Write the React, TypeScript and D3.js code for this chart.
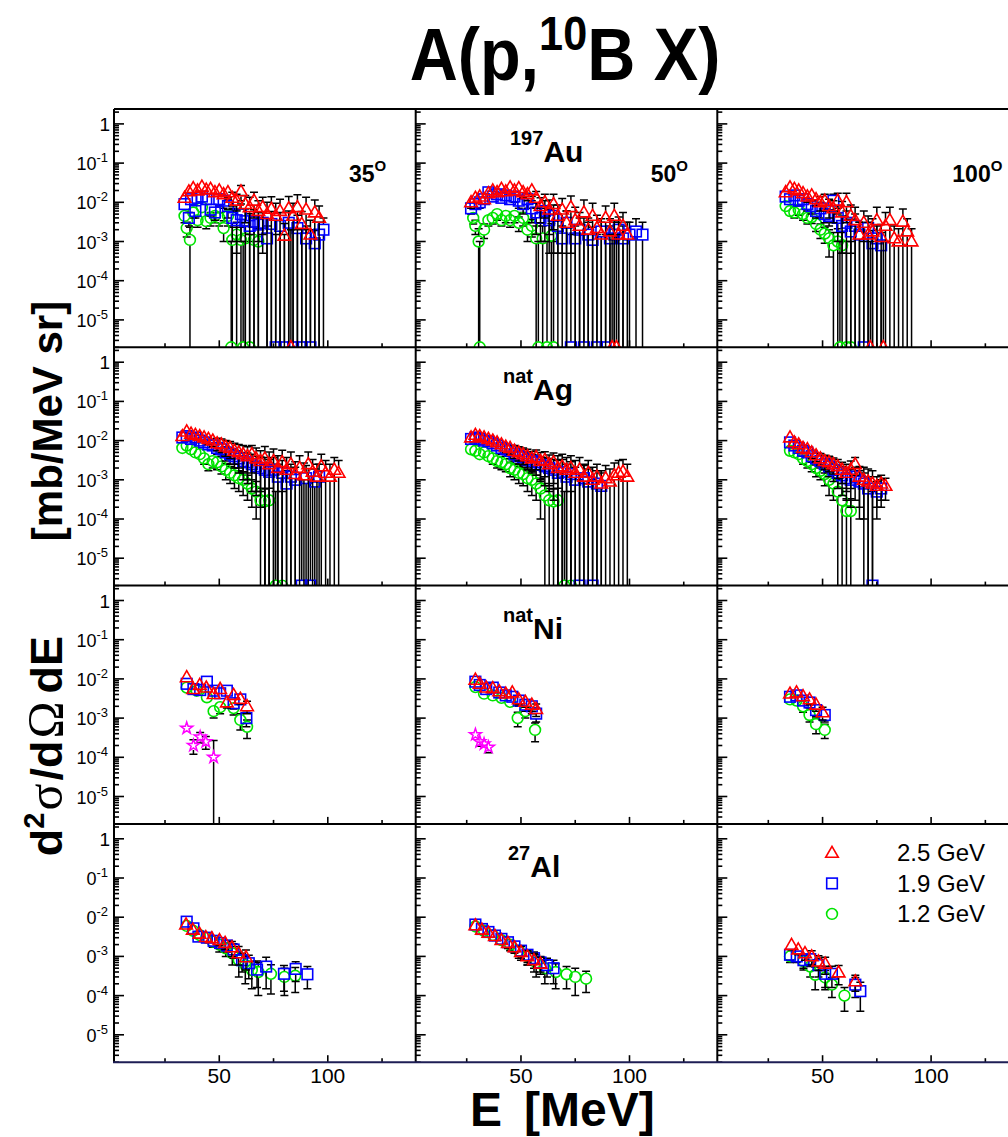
import React from 'react';
import * as d3 from 'd3';

type Pt = [number, number, number]; // [E (MeV), value (mb/MeV sr), error]

// ---------- 197Au ----------
const au35Red: Pt[] = [[34,0.013,0.003],[36,0.019,0.004],[38,0.023,0.005],[40,0.02,0.004],[42,0.025,0.005],[44,0.021,0.005],[46,0.022,0.005],[48,0.018,0.004],[50,0.02,0.005],[52,0.016,0.004],[54,0.018,0.005],[56,0.013,0.005],[58,0.011,0.005],[60,0.019,0.008],[62,0.009,0.006],[64,0.0075,0.006],[66,0.011,0.007],[68,0.006,0.005],[70,0.0075,0.006],[72,0.005,0.005],[74,0.0068,0.007],[76,0.0045,0.005],[78,0.006,0.006],[80,0.0014,0.0015],[82,0.007,0.007],[83,0,0.002],[84,0.0045,0.005],[86,0.0075,0.008],[88,0.0028,0.003],[90,0.0065,0.007],[92,0.0015,0.002],[94,0.0055,0.006],[96,0.004,0.004]];
const au35Blue: Pt[] = [[34,0.009,0.002],[36,0.004,0.0015],[37,0.012,0.003],[39,0.006,0.002],[40,0.013,0.003],[42,0.014,0.003],[44,0.012,0.003],[46,0.0065,0.002],[48,0.0055,0.002],[50,0.012,0.004],[52,0.011,0.004],[54,0.008,0.004],[56,0.004,0.003],[58,0.0035,0.003],[60,0.005,0.004],[62,0.0033,0.0034],[64,0.0025,0.0026],[66,0.0032,0.0033],[68,0.0027,0.0028],[70,0.003,0.0025],[72,0.0012,0.0013],[74,0.0028,0.003],[76,0,0.0015],[78,0.0025,0.003],[80,0,0.0015],[82,0.003,0.003],[84,0,0.002],[86,0.0022,0.0025],[88,0,0.002],[90,0.0012,0.0013],[92,0,0.002],[94,0.0009,0.001],[96,0.0015,0.0016],[98,0.002,0.002]];
const au35Green: Pt[] = [[34,0.0045,0.0015],[35,0.0022,0.0009],[36.5,0.0011,0.0012],[38,0.0055,0.0015],[40,0.0035,0.0012],[42,0.0075,0.002],[44,0.0033,0.0012],[46,0.004,0.0015],[48,0.0045,0.0015],[50,0.004,0.0015],[52,0.0022,0.0012],[54,0.0045,0.002],[55.5,0,0.001],[56,0.0011,0.0012],[58,0.0015,0.0016],[60,0.0011,0.0012],[61,0,0.001],[62,0.0012,0.0013],[64,0,0.001],[66,0.0011,0.0012],[68,0.001,0.0011]];

const au50Red: Pt[] = [[27,0.01,0.003],[29,0.013,0.003],[31,0.014,0.003],[33,0.012,0.003],[35,0.017,0.004],[37,0.02,0.004],[39,0.018,0.004],[41,0.022,0.005],[43,0.019,0.004],[45,0.024,0.005],[47,0.02,0.005],[49,0.023,0.005],[51,0.018,0.005],[53,0.016,0.005],[55,0.02,0.006],[57,0.013,0.006],[59,0.008,0.005],[61,0.01,0.006],[63,0.0065,0.005],[65,0.009,0.007],[67,0.0045,0.004],[69,0.0065,0.006],[71,0.003,0.003],[73,0.0075,0.007],[75,0.0035,0.004],[77,0.0025,0.003],[79,0.0055,0.006],[81,0.002,0.002],[83,0.0045,0.005],[85,0.0022,0.0025],[87,0.0015,0.0016],[89,0.004,0.004],[91,0.0018,0.002],[92,0,0.0015],[93,0.0045,0.005],[94,0,0.0015],[95,0.0015,0.0016],[97,0.0025,0.003],[99,0.0015,0.0016]];
const au50Blue: Pt[] = [[27,0.007,0.002],[29,0.009,0.002],[31,0.01,0.003],[33,0.012,0.003],[35,0.018,0.004],[37,0.014,0.003],[39,0.016,0.004],[41,0.013,0.003],[43,0.015,0.004],[45,0.012,0.003],[47,0.014,0.004],[49,0.011,0.004],[51,0.009,0.004],[53,0.012,0.005],[55,0.007,0.004],[57,0.0055,0.004],[59,0.004,0.003],[61,0.006,0.005],[63,0.0035,0.003],[65,0.0045,0.004],[67,0.0025,0.0025],[69,0.0012,0.0013],[71,0.003,0.003],[73,0,0.0015],[75,0.0012,0.0013],[77,0.002,0.002],[79,0,0.0015],[81,0.0015,0.0016],[83,0.0011,0.0012],[85,0,0.0015],[87,0.0018,0.002],[89,0,0.0015],[91,0.0012,0.0013],[93,0.0015,0.0016],[95,0.002,0.0022],[97,0.0012,0.0013],[100,0.0015,0.0016],[103,0.0018,0.002],[106,0.0015,0.0016]];
const au50Green: Pt[] = [[28,0.004,0.0012],[29,0.0025,0.001],[30.5,0.001,0.0011],[31,0,0.001],[33,0.002,0.0008],[35,0.0035,0.001],[37,0.004,0.0012],[39,0.005,0.0015],[41,0.0035,0.001],[43,0.0045,0.0015],[45,0.0035,0.0012],[47,0.0045,0.0015],[49,0.003,0.0012],[51,0.004,0.0015],[53,0.002,0.001],[55,0.0025,0.0012],[57,0.0012,0.0013],[58,0,0.001],[60,0.0012,0.0013],[62,0,0.001],[64,0.0014,0.0015],[65,0,0.001]];

const au100Red: Pt[] = [[33,0.018,0.004],[35,0.024,0.005],[37,0.022,0.005],[39,0.02,0.004],[41,0.017,0.004],[43,0.014,0.004],[45,0.015,0.004],[47,0.012,0.004],[49,0.01,0.004],[51,0.011,0.005],[53,0.008,0.004],[55,0.007,0.004],[57,0.011,0.006],[59,0.0055,0.005],[61,0.01,0.007],[63,0.0045,0.004],[65,0.0035,0.004],[67,0.0015,0.0016],[69,0.003,0.003],[71,0.0015,0.0016],[72,0,0.001],[73,0.0018,0.002],[75,0.0035,0.004],[77,0.0013,0.0014],[78,0,0.001],[79,0.0025,0.003],[81,0.0035,0.004],[83,0.0012,0.0013],[85,0.001,0.0011],[87,0.0032,0.0035],[89,0.0018,0.002],[91,0.001,0.0011]];
const au100Blue: Pt[] = [[33,0.014,0.003],[35,0.012,0.003],[37,0.015,0.003],[39,0.011,0.003],[41,0.012,0.003],[43,0.009,0.003],[45,0.008,0.003],[47,0.006,0.002],[49,0.007,0.003],[51,0.005,0.002],[53,0.0045,0.002],[55,0.011,0.005],[57,0.004,0.003],[59,0.0025,0.002],[61,0.003,0.003],[63,0.0018,0.0019],[65,0.0025,0.0025],[67,0.0015,0.0016],[69,0,0.001],[71,0.0022,0.0023],[73,0.0009,0.001],[75,0.0012,0.0013],[77,0.0008,0.0009]];
const au100Green: Pt[] = [[33,0.008,0.002],[35,0.006,0.0015],[37,0.0055,0.0015],[39,0.0065,0.0018],[41,0.005,0.0015],[43,0.004,0.0012],[45,0.0042,0.0013],[47,0.0028,0.001],[49,0.002,0.0008],[51,0.0016,0.0007],[53,0.0012,0.0008],[55,0.0008,0.0009],[57,0.001,0.0011],[58,0,0.001],[59,0.0008,0.0009],[61,0,0.001],[63,0,0.001]];

// ---------- natAg ----------
const ag35Red: Pt[] = [[33,0.013,0.002],[35,0.017,0.003],[37,0.015,0.003],[39,0.014,0.003],[41,0.013,0.003],[43,0.012,0.003],[45,0.011,0.003],[47,0.01,0.003],[49,0.0085,0.003],[51,0.008,0.003],[53,0.007,0.003],[55,0.0065,0.003],[57,0.0055,0.003],[59,0.005,0.003],[61,0.0045,0.003],[63,0.004,0.003],[65,0.0045,0.003],[67,0.0035,0.003],[69,0.003,0.0025],[71,0.0035,0.0036],[73,0.0025,0.0026],[75,0.003,0.0031],[77,0.002,0.0021],[79,0.0028,0.0029],[81,0.0018,0.0019],[83,0.0025,0.0026],[85,0.0014,0.0015],[87,0.002,0.0021],[89,0.0013,0.0014],[91,0.0025,0.0026],[93,0.0016,0.0017],[95,0.0012,0.0013],[97,0.0022,0.0023],[99,0.0015,0.0016],[101,0.0012,0.0013],[103,0.0018,0.0019],[105,0.0015,0.0016]];
const ag35Blue: Pt[] = [[33,0.012,0.002],[35,0.013,0.002],[37,0.011,0.002],[39,0.012,0.003],[41,0.01,0.002],[43,0.009,0.002],[45,0.008,0.002],[47,0.0075,0.002],[49,0.0065,0.002],[51,0.006,0.002],[53,0.005,0.002],[55,0.0045,0.002],[57,0.004,0.002],[59,0.0035,0.002],[61,0.003,0.002],[63,0.0028,0.002],[65,0.0025,0.002],[67,0.0022,0.0018],[69,0.002,0.0018],[71,0.0018,0.0019],[73,0.0016,0.0017],[75,0.0018,0.0019],[77,0.0012,0.0013],[79,0.0015,0.0016],[81,0.0008,0.0009],[83,0.0012,0.0013],[85,0.001,0.0011],[88,0,0.001],[90,0.0011,0.0012],[92,0,0.001],[94,0.0009,0.001],[96,0.0012,0.0013]];
const ag35Green: Pt[] = [[33,0.0065,0.0015],[35,0.0075,0.0015],[37,0.006,0.0015],[39,0.005,0.0012],[41,0.0045,0.0012],[43,0.0035,0.001],[45,0.0025,0.0008],[47,0.003,0.001],[49,0.0028,0.001],[51,0.0022,0.0008],[53,0.0018,0.0008],[55,0.0015,0.0007],[57,0.0013,0.0007],[59,0.0011,0.0006],[61,0.001,0.0006],[63,0.0008,0.0005],[65,0.0006,0.0004],[67,0.0005,0.0004],[69,0.0003,0.00031],[71,0.00028,0.0003],[73,0.0003,0.00031],[76,0,0.0005],[79,0,0.0005]];

const ag50Red: Pt[] = [[27,0.012,0.002],[29,0.014,0.002],[31,0.013,0.002],[33,0.012,0.002],[35,0.011,0.002],[37,0.01,0.002],[39,0.009,0.002],[41,0.008,0.002],[43,0.007,0.002],[45,0.0065,0.002],[47,0.0055,0.002],[49,0.005,0.002],[51,0.0045,0.002],[53,0.004,0.002],[55,0.0035,0.0018],[57,0.0038,0.002],[59,0.003,0.002],[61,0.0032,0.002],[63,0.0025,0.0018],[65,0.0028,0.002],[67,0.002,0.0021],[69,0.0022,0.0023],[71,0.0018,0.0019],[73,0.002,0.0021],[75,0.0015,0.0016],[77,0.0018,0.0019],[79,0.0012,0.0013],[81,0.0015,0.0016],[83,0.001,0.0011],[85,0.0012,0.0013],[87,0.0008,0.0009],[89,0.0011,0.0012],[91,0.0009,0.001],[93,0.0013,0.0014],[95,0.0015,0.0016],[97,0.0016,0.0017],[99,0.0012,0.0013]];
const ag50Blue: Pt[] = [[27,0.011,0.002],[29,0.012,0.002],[31,0.011,0.002],[33,0.01,0.002],[35,0.0095,0.002],[37,0.0085,0.002],[39,0.0075,0.002],[41,0.0065,0.002],[43,0.006,0.002],[45,0.0055,0.002],[47,0.0045,0.0015],[49,0.004,0.0015],[51,0.0038,0.0015],[53,0.0033,0.0015],[55,0.003,0.0015],[57,0.0028,0.0015],[59,0.0024,0.0015],[61,0.0022,0.0015],[63,0.002,0.0015],[65,0.0018,0.0015],[67,0.0015,0.0016],[69,0.0016,0.0017],[71,0.0012,0.0013],[73,0.0014,0.0015],[75,0.001,0.0011],[77,0,0.001],[79,0.0011,0.0012],[81,0.0009,0.001],[83,0,0.001],[85,0.0008,0.0009],[87,0.0007,0.0008]];
const ag50Green: Pt[] = [[27,0.006,0.0012],[29,0.0055,0.0012],[31,0.0045,0.001],[33,0.005,0.0012],[35,0.004,0.001],[37,0.0035,0.001],[39,0.003,0.001],[41,0.0028,0.001],[43,0.0025,0.0009],[45,0.002,0.0008],[47,0.0018,0.0008],[49,0.0015,0.0007],[51,0.0014,0.0007],[53,0.0011,0.0006],[55,0.001,0.0006],[57,0.0008,0.0005],[59,0.0006,0.0005],[61,0.0004,0.0004],[63,0.0003,0.0003],[65,0.00028,0.0003],[67,0.0003,0.00031],[70,0,0.0005],[73,0,0.0005]];

const ag100Red: Pt[] = [[35,0.012,0.002],[37,0.009,0.002],[39,0.008,0.002],[41,0.0065,0.0015],[43,0.006,0.0015],[45,0.005,0.0015],[47,0.0042,0.0013],[49,0.0035,0.0012],[51,0.003,0.0012],[53,0.0028,0.0012],[55,0.0025,0.0011],[57,0.0022,0.0011],[59,0.0018,0.001],[61,0.0015,0.001],[63,0.0018,0.0012],[65,0.0025,0.0012],[67,0.0012,0.001],[69,0.001,0.0011],[71,0.0009,0.001],[73,0.0008,0.0009],[75,0.0007,0.0005],[77,0.0008,0.0005],[79,0.0007,0.0004]];
const ag100Blue: Pt[] = [[35,0.009,0.002],[37,0.0075,0.0015],[39,0.0065,0.0015],[41,0.0055,0.0015],[43,0.005,0.0013],[45,0.004,0.0012],[47,0.0035,0.0011],[49,0.003,0.001],[51,0.0025,0.001],[53,0.0022,0.001],[55,0.0018,0.0009],[57,0.0015,0.0009],[59,0.0013,0.0009],[61,0.0011,0.0008],[63,0.001,0.0008],[65,0.0012,0.0009],[67,0.0009,0.0008],[69,0.0008,0.0007],[71,0.0006,0.0006],[73,0,0.0005],[75,0.0005,0.0004],[77,0.0006,0.0004]];
const ag100Green: Pt[] = [[35,0.0055,0.0012],[37,0.005,0.0012],[39,0.0045,0.0011],[41,0.0035,0.001],[43,0.003,0.001],[45,0.0025,0.0009],[47,0.002,0.0008],[49,0.0017,0.0007],[51,0.0014,0.0007],[53,0.001,0.0006],[55,0.0008,0.0005],[57,0.0005,0.0005],[59,0.0003,0.00031],[61,0.00016,0.00017],[63,0.00016,0.00017]];

// ---------- natNi ----------
const ni35Red: Pt[] = [[35,0.011,0.002],[38,0.0055,0.001],[41,0.007,0.0012],[44,0.006,0.0011],[47.4,0.0041,0.0009],[50.4,0.0055,0.001],[53.5,0.0025,0.0007],[56.6,0.0039,0.0009],[59.7,0.0031,0.0008],[62.8,0.002,0.0007]];
const ni35Blue: Pt[] = [[35,0.0075,0.0013],[38.1,0.0055,0.001],[41.2,0.0052,0.001],[44.3,0.0085,0.0014],[47.4,0.005,0.001],[50.4,0.0043,0.0009],[53.5,0.005,0.001],[56.6,0.0024,0.0007],[59.7,0.003,0.0008],[62.5,0.001,0.0004]];
const ni35Green: Pt[] = [[35,0.006,0.001],[39.6,0.005,0.001],[44.3,0.0034,0.0008],[47.4,0.0015,0.0005],[50.4,0.0019,0.0006],[56.6,0.0018,0.0006],[59.7,0.0009,0.0004],[62.8,0.0006,0.0003]];
const ni35Star: Pt[] = [[35,0.00055,0.00012],[38.1,0.0002,0.00008],[41.2,0.00033,0.0001],[43.8,0.00025,0.00009],[47.4,0.0001,0.00017]];

const ni50Red: Pt[] = [[29,0.0095,0.0015],[31,0.0075,0.0013],[34,0.006,0.0012],[37,0.0058,0.0011],[40,0.0048,0.001],[43,0.0042,0.0009],[46,0.0045,0.001],[49,0.003,0.0008],[52,0.0026,0.0007],[55,0.0022,0.0007],[57,0.0017,0.0006]];
const ni50Blue: Pt[] = [[29,0.0085,0.0014],[31,0.007,0.0012],[34,0.0055,0.0011],[37,0.006,0.0011],[40,0.0045,0.001],[43,0.0038,0.0009],[46,0.0035,0.0009],[49,0.0028,0.0008],[52,0.0022,0.0007],[55,0.002,0.0007],[57,0.0013,0.0005]];
const ni50Green: Pt[] = [[29,0.0062,0.0012],[33,0.0042,0.0009],[37,0.0038,0.0009],[41,0.0033,0.0008],[45,0.0026,0.0007],[48.5,0.001,0.0004],[52,0.0015,0.0005],[56.5,0.0005,0.00025]];
const ni50Star: Pt[] = [[29,0.00038,0.00008],[31,0.00025,0.00006],[33,0.00022,0.00005],[35,0.00018,0.00005]];

const ni100Red: Pt[] = [[35,0.0042,0.0009],[38,0.0045,0.0009],[41,0.0036,0.0008],[44,0.003,0.0008],[47,0.0022,0.0007],[50,0.0014,0.0005]];
const ni100Blue: Pt[] = [[35,0.0035,0.0008],[38,0.0038,0.0008],[41,0.0028,0.0007],[44,0.0025,0.0007],[47,0.0016,0.0005],[51,0.0012,0.0004]];
const ni100Green: Pt[] = [[35,0.003,0.0007],[38,0.0028,0.0007],[41,0.002,0.0006],[44,0.0012,0.0004],[47,0.0007,0.0003],[51,0.0005,0.0002]];

// ---------- 27Al ----------
const al35Red: Pt[] = [[34.7,0.0065,0.001],[37.8,0.0048,0.0008],[40.9,0.0038,0.0007],[43.8,0.0031,0.0007],[46.6,0.0029,0.0007],[50.1,0.0026,0.0007],[52.7,0.0022,0.0007],[55.8,0.0017,0.0007],[58.9,0.0012,0.0006],[62.3,0.00095,0.0005]];
const al35Blue: Pt[] = [[35,0.0077,0.0012],[38.1,0.0052,0.0009],[40.4,0.0032,0.0007],[44.3,0.003,0.0007],[47.4,0.0025,0.0006],[50.4,0.0022,0.0006],[53.5,0.0019,0.0006],[56.6,0.0015,0.0006],[60.5,0.0008,0.0004],[63.6,0.00067,0.0004],[67.4,0.00046,0.0003],[71.6,0.00055,0.0004],[79.8,0.00036,0.00023],[85.2,0.00048,0.00025],[90.6,0.00035,0.0002]];
const al35Green: Pt[] = [[35,0.006,0.001],[38,0.0045,0.0008],[41,0.0035,0.0007],[44,0.003,0.0007],[47,0.0024,0.0007],[50,0.002,0.0007],[53,0.0016,0.0006],[56,0.0012,0.0006],[59,0.0008,0.0005],[62,0.0006,0.0004],[65,0.00045,0.0003],[68,0.0004,0.0003],[73.8,0.00036,0.00025],[80,0.0003,0.0002],[85,0.00032,0.0002]];

const al50Red: Pt[] = [[29,0.0062,0.001],[32,0.0048,0.0008],[35,0.004,0.0007],[38,0.0033,0.0006],[41,0.0026,0.0006],[44,0.0022,0.0006],[47,0.0017,0.0005],[50,0.0013,0.0005],[53,0.001,0.0004],[56,0.0008,0.0004],[59,0.00065,0.0003]];
const al50Blue: Pt[] = [[29,0.0065,0.001],[32,0.005,0.0008],[35,0.0042,0.0007],[38,0.0034,0.0006],[41,0.0028,0.0006],[44,0.0023,0.0006],[47,0.0018,0.0005],[50,0.0014,0.0005],[53,0.0011,0.0004],[56,0.0009,0.0004],[59,0.0007,0.0003],[62,0.0006,0.0003],[65,0.0005,0.0003]];
const al50Green: Pt[] = [[29,0.0058,0.001],[33,0.0045,0.0008],[37,0.0035,0.0007],[41,0.0026,0.0006],[45,0.002,0.0006],[49,0.0014,0.0005],[53,0.001,0.0004],[57,0.0007,0.0004],[61,0.0005,0.0003],[66,0.0004,0.00025],[71,0.00035,0.0002],[75,0.0003,0.0002],[80,0.00027,0.00015]];

const al100Red: Pt[] = [[35.7,0.00196,0.0005],[38.8,0.0015,0.0004],[41.9,0.0012,0.0004],[45,0.001,0.0004],[48.1,0.00074,0.0003],[51.2,0.00065,0.0003],[57.4,0.00039,0.0002],[65.1,0.00023,0.0001]];
const al100Blue: Pt[] = [[35,0.0011,0.0003],[38.1,0.001,0.0003],[41.2,0.0008,0.0003],[44.3,0.00085,0.0003],[48.1,0.0006,0.0003],[51.2,0.00036,0.0002],[54.3,0.00036,0.0002],[65.1,0.00019,0.0001],[67.4,0.00013,0.00009]];
const al100Green: Pt[] = [[35,0.001,0.0003],[41.2,0.00075,0.0003],[44.3,0.00055,0.00025],[46.6,0.00034,0.0002],[51.2,0.00029,0.00015],[54.3,0.00019,0.0001],[60.1,0.0001,0.00006]];

// ---------- labels ----------
const angleLabels = ['35', '50', '100'];
const targetMass = ['197', 'nat', 'nat', '27'];
const targetName = ['Au', 'Ag', 'Ni', 'Al'];
const legendLabels = ['2.5 GeV', '1.9 GeV', '1.2 GeV'];
const yTickExps = [0, -1, -2, -3, -4, -5];
const xTickMajor = [50, 100];
const xTickMinor = [25, 75, 125];

// ---------- layout ----------
const W = 1008, H = 1137;
const PW = 301.7, PH = 238.3;
const COL_X = [114, 415.7, 717.3];
const ROW_Y = [109, 347.3, 585.6, 823.9];
const YMIN = 2e-6, YMAX = 2.4;
const FONT = "'Liberation Sans', Arial, Helvetica, sans-serif";
const SERIF = "'Liberation Serif', 'DejaVu Serif', serif";

const xScale = d3.scaleLinear().domain([1.5, 140.5]).range([0, PW]);
const yScale = d3.scaleLog().domain([YMIN, YMAX]).range([PH, 0]);

type Kind = 'triangle' | 'square' | 'circle' | 'star';
const COLORS: Record<Kind, string> = { triangle: '#ff0000', square: '#0000ff', circle: '#00e400', star: '#ff00ff' };
const RAD: Record<Kind, number> = { triangle: 5, square: 5.3, circle: 5.4, star: 4.5 };
const starPath = d3.symbol().type(d3.symbolStar).size(44)() as string;

interface Series { data: Pt[]; kind: Kind }
interface Panel { r: number; c: number; series: Series[] }

const S = (data: Pt[], kind: Kind): Series => ({ data, kind });
const panels: Panel[] = [
  { r: 0, c: 0, series: [S(au35Green, 'circle'), S(au35Blue, 'square'), S(au35Red, 'triangle')] },
  { r: 0, c: 1, series: [S(au50Green, 'circle'), S(au50Blue, 'square'), S(au50Red, 'triangle')] },
  { r: 0, c: 2, series: [S(au100Green, 'circle'), S(au100Blue, 'square'), S(au100Red, 'triangle')] },
  { r: 1, c: 0, series: [S(ag35Green, 'circle'), S(ag35Blue, 'square'), S(ag35Red, 'triangle')] },
  { r: 1, c: 1, series: [S(ag50Green, 'circle'), S(ag50Blue, 'square'), S(ag50Red, 'triangle')] },
  { r: 1, c: 2, series: [S(ag100Green, 'circle'), S(ag100Blue, 'square'), S(ag100Red, 'triangle')] },
  { r: 2, c: 0, series: [S(ni35Green, 'circle'), S(ni35Blue, 'square'), S(ni35Red, 'triangle'), S(ni35Star, 'star')] },
  { r: 2, c: 1, series: [S(ni50Green, 'circle'), S(ni50Blue, 'square'), S(ni50Red, 'triangle'), S(ni50Star, 'star')] },
  { r: 2, c: 2, series: [S(ni100Green, 'circle'), S(ni100Blue, 'square'), S(ni100Red, 'triangle')] },
  { r: 3, c: 0, series: [S(al35Green, 'circle'), S(al35Blue, 'square'), S(al35Red, 'triangle')] },
  { r: 3, c: 1, series: [S(al50Green, 'circle'), S(al50Blue, 'square'), S(al50Red, 'triangle')] },
  { r: 3, c: 2, series: [S(al100Green, 'circle'), S(al100Blue, 'square'), S(al100Red, 'triangle')] },
];

function marker(kind: Kind, x: number, y: number, key: string | number) {
  const stroke = COLORS[kind];
  const common = { fill: 'none', stroke, strokeWidth: 1.6 } as const;
  if (kind === 'triangle')
    return <path key={key} d={`M${x},${y - 6.6}L${x + 6.3},${y + 4.4}L${x - 6.3},${y + 4.4}Z`} {...common} strokeLinejoin="miter" />;
  if (kind === 'square')
    return <rect key={key} x={x - 5.3} y={y - 5.3} width={10.6} height={10.6} {...common} />;
  if (kind === 'circle')
    return <circle key={key} cx={x} cy={y} r={5.4} {...common} />;
  return <path key={key} d={starPath} transform={`translate(${x},${y})`} {...common} strokeWidth={1.5} />;
}

function errorBar(p: Pt, kind: Kind, key: string) {
  const [e, v, err] = p;
  const x = xScale(e);
  const y = v > 0 ? yScale(v) : PH;
  const r = RAD[kind];
  const yU = yScale(v + err);
  const lo = v - err;
  const toBottom = !(lo > YMIN);
  const yL = toBottom ? PH + 3 : yScale(lo);
  const els: JSX.Element[] = [];
  if (yU < y - r) {
    els.push(<line key={key + 'u'} x1={x} x2={x} y1={y - r} y2={yU} />);
    els.push(<line key={key + 'uc'} x1={x - 4} x2={x + 4} y1={yU} y2={yU} />);
  }
  if (yL > y + r) {
    els.push(<line key={key + 'l'} x1={x} x2={x} y1={y + r} y2={yL} />);
    if (!toBottom) els.push(<line key={key + 'lc'} x1={x - 4} x2={x + 4} y1={yL} y2={yL} />);
  }
  return els;
}

function PanelView({ p }: { p: Panel }) {
  const ox = COL_X[p.c], oy = ROW_Y[p.r];
  const id = `clip-${p.r}-${p.c}`;
  const yTicks: JSX.Element[] = [];
  for (let ex = -6; ex <= 0; ex++) {
    for (let k = 1; k <= 9; k++) {
      const v = k * Math.pow(10, ex);
      if (v < YMIN || v > YMAX) continue;
      const y = yScale(v);
      yTicks.push(<line key={`yt${ex}_${k}`} x1={0} x2={k === 1 ? 10 : 5} y1={y} y2={y} />);
    }
  }
  const xTicks = [
    ...xTickMajor.map((t) => <line key={`xM${t}`} x1={xScale(t)} x2={xScale(t)} y1={PH} y2={PH - 7} />),
    ...xTickMinor.map((t) => <line key={`xm${t}`} x1={xScale(t)} x2={xScale(t)} y1={PH} y2={PH - 4} />),
  ];
  return (
    <g transform={`translate(${ox},${oy})`}>
      <defs>
        <clipPath id={id}><rect x={0} y={0} width={PW} height={PH} /></clipPath>
      </defs>
      <g clipPath={`url(#${id})`}>
        {p.series.map((s, si) => (
          <g key={si}>
            <g stroke="#000" strokeWidth={1.5}>
              {s.data.flatMap((pt, i) => errorBar(pt, s.kind, `${si}_${i}`))}
            </g>
            {s.data.map((pt, i) => marker(s.kind, xScale(pt[0]), pt[1] > 0 ? yScale(pt[1]) : PH, i))}
          </g>
        ))}
      </g>
      <g stroke="#000" strokeWidth={1.6}>
        {yTicks}
        {xTicks}
      </g>
    </g>
  );
}

export default function App() {
  const bottom = ROW_Y[3] + PH;
  return (
    <svg width={W} height={H} viewBox={`0 0 ${W} ${H}`}
      style={{ position: 'absolute', left: 0, top: 0, background: '#fff' }}
      fontFamily={FONT}>
      <rect x={0} y={0} width={W} height={H} fill="#fff" />
      {/* Title */}
      <g transform="translate(565,80) scale(0.9,1)">
        <text x={0} y={0} textAnchor="middle" fontWeight="bold" fontSize={74}>
          A(p,<tspan dy={-30} fontSize={48}>10</tspan><tspan dy={30}>B X)</tspan>
        </text>
      </g>

      {panels.map((p) => <PanelView key={`${p.r}${p.c}`} p={p} />)}

      {/* frame lines */}
      <g stroke="#000" strokeWidth={2}>
        <line x1={COL_X[0]} x2={W} y1={ROW_Y[0]} y2={ROW_Y[0]} />
        {ROW_Y.slice(1).map((y, i) => <line key={`h${i}`} x1={COL_X[0]} x2={W} y1={y} y2={y} />)}
        {COL_X.map((x, i) => <line key={`v${i}`} x1={x} x2={x} y1={ROW_Y[0]} y2={bottom} />)}
      </g>
      <line x1={COL_X[0] - 1} x2={W} y1={bottom} y2={bottom} stroke="#1e1e55" strokeWidth={2} />

      {/* y tick labels (the bottom row's leading "1" is cut off in the original) */}
      {ROW_Y.map((ry, r) => (
        <g key={`yl${r}`}>
          {yTickExps.map((ex) => {
            const y = ry + yScale(Math.pow(10, ex));
            if (ex === 0) return <text key={ex} x={110} y={y + 7} textAnchor="end" fontSize={19}>1</text>;
            return (
              <text key={ex} x={108} y={y + 7} textAnchor="end" fontSize={18}>
                <tspan fillOpacity={r === 3 ? 0 : 1}>1</tspan>0<tspan dy={-8} fontSize={13}>{`-${-ex}`}</tspan>
              </text>
            );
          })}
        </g>
      ))}

      {/* x tick labels */}
      {COL_X.map((cx, c) => (
        <g key={`xl${c}`}>
          {xTickMajor.map((t) => (
            <text key={t} x={cx + xScale(t)} y={bottom + 21} textAnchor="middle" fontSize={21}>{t}</text>
          ))}
        </g>
      ))}

      {/* angle labels */}
      {angleLabels.map((a, c) => (
        <text key={`ang${c}`} x={COL_X[c] + 235} y={ROW_Y[0] + 73} fontWeight="bold" fontSize={23}>
          {a}<tspan dy={-11} fontSize={15}>O</tspan>
        </text>
      ))}

      {/* target labels */}
      {targetName.map((n, r) => {
        const xs = [510, 503, 503, 508][r];
        return (
          <text key={`tg${r}`} x={xs} y={ROW_Y[r] + 53} fontWeight="bold" fontSize={30}>
            <tspan dy={-17} fontSize={20}>{targetMass[r]}</tspan>
            <tspan dy={17}>{n}</tspan>
          </text>
        );
      })}

      {/* legend */}
      {(['triangle', 'square', 'circle'] as Kind[]).map((k, i) => {
        const y = ROW_Y[3] + 29 + i * 30.5;
        return (
          <g key={`lg${i}`}>
            {marker(k, 832, y, 'm')}
            <text x={897} y={y + 8.5} fontSize={24}>{legendLabels[i]}</text>
          </g>
        );
      })}

      {/* y axis title */}
      <g transform="translate(62,421) rotate(-90)">
        <text x={0} y={0} textAnchor="middle" fontWeight="bold" fontSize={42}>[mb/MeV sr]</text>
      </g>
      <g transform="translate(62,746) rotate(-90)">
        <text x={0} y={0} textAnchor="middle" fontWeight="bold" fontSize={45}>
          d<tspan dy={-18} fontSize={29}>2</tspan>
          <tspan dy={18} dx={2} fontFamily={SERIF} fontWeight="normal" fontSize={50}>σ</tspan>
          <tspan dx={3}>/d</tspan>
          <tspan dx={2} fontFamily={SERIF} fontWeight="normal" fontSize={50}>Ω</tspan>
          <tspan dx={8}>dE</tspan>
        </text>
      </g>

      {/* x axis title */}
      <text x={470} y={1126} fontWeight="bold" fontSize={48}>E</text>
      <text x={524} y={1126} fontWeight="bold" fontSize={48}>[MeV]</text>
    </svg>
  );
}
